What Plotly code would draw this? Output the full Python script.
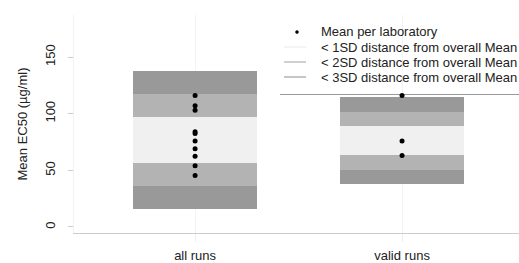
import plotly.graph_objects as go

# ---- data ----
groups = ["all runs", "valid runs"]
overall_mean = [76.5, 76.3]
overall_sd = [20.3, 12.8]
lab_means_all = [116, 107, 103, 84, 82.5, 76, 69, 62.5, 54, 45.5]
lab_means_valid = [116, 76, 63]
sd_levels = [3, 2, 1]
band_colors = {3: "#999999", 2: "#b3b3b3", 1: "#f0f0f0"}
legend_line_colors = {3: "#a0a0a0", 2: "#b0b0b0", 1: "#ececec"}
points_label = "Mean per laboratory"
band_labels = {1: "< 1SD distance from overall Mean",
               2: "< 2SD distance from overall Mean",
               3: "< 3SD distance from overall Mean"}
y_ticks = [0, 50, 100, 150]

FONT = "Liberation Sans, Arial, sans-serif"
W, H = 519, 263
ML, MR, MT, MB = 74, 0, 15, 30
PW, PH = W - ML - MR, H - MT - MB


def px(x):
    return (x - ML) / PW


def py(y):
    return (H - MB - y) / PH


fig = go.Figure()

# SD bands (widest first)
for k in sd_levels:
    fig.add_trace(go.Bar(
        x=groups,
        base=[m - k * s for m, s in zip(overall_mean, overall_sd)],
        y=[2 * k * s for s in overall_sd],
        width=0.6,
        marker=dict(color=band_colors[k], line=dict(width=0)),
        showlegend=False,
        hoverinfo="skip",
    ))

# lab means
fig.add_trace(go.Scatter(
    x=[groups[0]] * len(lab_means_all), y=lab_means_all, mode="markers",
    marker=dict(color="black", size=5), name=points_label, showlegend=False,
))
fig.add_trace(go.Scatter(
    x=[groups[1]] * len(lab_means_valid), y=lab_means_valid, mode="markers",
    marker=dict(color="black", size=5), name=points_label, showlegend=False,
))

# ---- hand-drawn legend (R style) ----
row_y = [32, 47, 62, 77]
labels = [points_label] + [band_labels[k] for k in (1, 2, 3)]
for yy, lab in zip(row_y, labels):
    fig.add_annotation(xref="paper", yref="paper", x=px(319), y=py(yy),
                       text=lab, showarrow=False, xanchor="left",
                       yanchor="middle", font=dict(size=13, color="#222222"))
# dot key
fig.add_shape(type="circle", xref="paper", yref="paper",
              x0=px(295.5), x1=px(298.5), y0=py(33.5), y1=py(30.5),
              fillcolor="black", line=dict(color="black", width=0.5))
# line keys
for yy, k in zip(row_y[1:], (1, 2, 3)):
    fig.add_shape(type="line", xref="paper", yref="paper",
                  x0=px(284), x1=px(306), y0=py(yy), y1=py(yy),
                  line=dict(color=legend_line_colors[k], width=1.2))
# legend bottom rule
fig.add_shape(type="line", xref="paper", yref="paper",
              x0=px(280), x1=1.0, y0=py(94.5), y1=py(94.5),
              line=dict(color="#9a9a9a", width=1), layer="below")

fig.update_layout(
    width=W, height=H,
    margin=dict(l=ML, r=MR, t=MT, b=MB, autoexpand=False),
    paper_bgcolor="white", plot_bgcolor="white",
    barmode="overlay", bargap=0,
    font=dict(family=FONT, size=13, color="#222222"),
    showlegend=False,
    xaxis=dict(
        type="category", range=[-0.585, 1.565], automargin=False,
        showgrid=True, gridcolor="#f3f3f3", gridwidth=1,
        showline=True, linecolor="#cccccc", linewidth=1,
        ticks="outside", ticklen=8, tickcolor="#eeeeee",
        ticklabelstandoff=2, zeroline=False,
    ),
    yaxis=dict(
        range=[-5.3, 187.1], tickvals=y_ticks, automargin=False,
        showgrid=False, zeroline=False,
        showline=True, linecolor="#f2f2f2", linewidth=1, mirror=True,
        ticks="outside", ticklen=5, tickcolor="#cccccc",
        tickangle=-90, ticklabelstandoff=8,
        title=dict(text="Mean EC50 (µg/ml)", standoff=12,
                   font=dict(size=13, color="#222222")),
    ),
)

fig.write_html("out.html",
               config={"displayModeBar": False, "staticPlot": True},
               post_script="document.body.style.margin='0';"
                           "document.body.style.overflow='hidden';")
